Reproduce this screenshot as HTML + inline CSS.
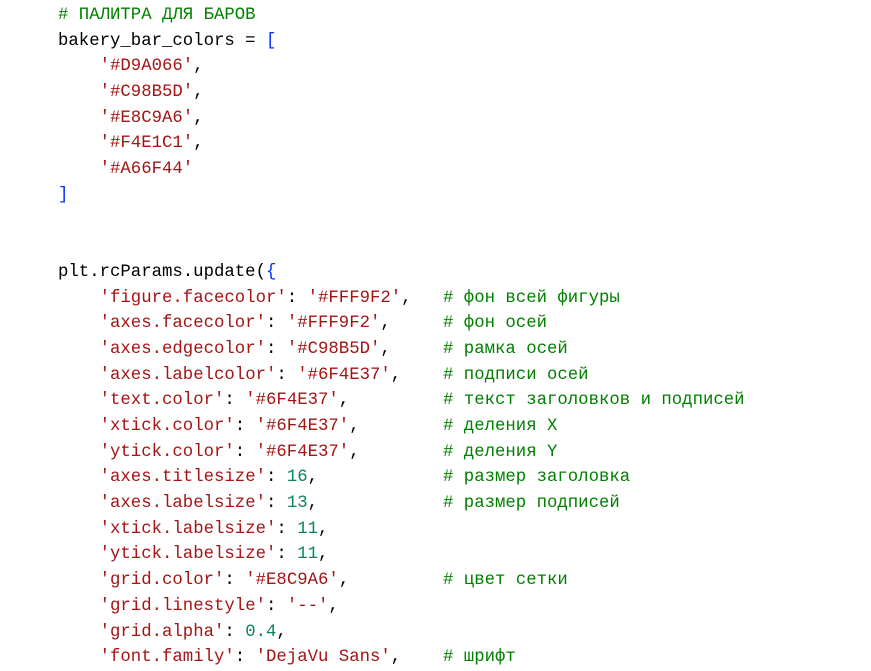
<!DOCTYPE html>
<html><head><meta charset="utf-8"><style>
html,body{margin:0;padding:0;background:#fff;width:871px;height:669px;overflow:hidden}
pre{margin:0;position:absolute;left:58px;top:3px;font-family:"Liberation Mono",monospace;font-size:17.33px;line-height:25.7px;color:#000}
.s{color:#a31515}.c{color:#008000}.b{color:#0431fa}.n{color:#098658}
.l{display:block;height:25.7px;position:relative}
.l .c2{position:absolute;left:385px;color:#008000}
</style></head><body>
<pre><span class="l"><span class="c"># ПАЛИТРА ДЛЯ БАРОВ</span></span><span class="l">bakery_bar_colors = <span class="b">[</span></span><span class="l">    <span class="s">'#D9A066'</span>,</span><span class="l">    <span class="s">'#C98B5D'</span>,</span><span class="l">    <span class="s">'#E8C9A6'</span>,</span><span class="l">    <span class="s">'#F4E1C1'</span>,</span><span class="l">    <span class="s">'#A66F44'</span></span><span class="l"><span class="b">]</span></span><span class="l"> </span><span class="l"> </span><span class="l">plt.rcParams.update(<span class="b">{</span></span><span class="l">    <span class="s">'figure.facecolor'</span>: <span class="s">'#FFF9F2'</span>,<span class="c2"># фон всей фигуры</span></span><span class="l">    <span class="s">'axes.facecolor'</span>: <span class="s">'#FFF9F2'</span>,<span class="c2"># фон осей</span></span><span class="l">    <span class="s">'axes.edgecolor'</span>: <span class="s">'#C98B5D'</span>,<span class="c2"># рамка осей</span></span><span class="l">    <span class="s">'axes.labelcolor'</span>: <span class="s">'#6F4E37'</span>,<span class="c2"># подписи осей</span></span><span class="l">    <span class="s">'text.color'</span>: <span class="s">'#6F4E37'</span>,<span class="c2"># текст заголовков и подписей</span></span><span class="l">    <span class="s">'xtick.color'</span>: <span class="s">'#6F4E37'</span>,<span class="c2"># деления X</span></span><span class="l">    <span class="s">'ytick.color'</span>: <span class="s">'#6F4E37'</span>,<span class="c2"># деления Y</span></span><span class="l">    <span class="s">'axes.titlesize'</span>: <span class="n">16</span>,<span class="c2"># размер заголовка</span></span><span class="l">    <span class="s">'axes.labelsize'</span>: <span class="n">13</span>,<span class="c2"># размер подписей</span></span><span class="l">    <span class="s">'xtick.labelsize'</span>: <span class="n">11</span>,</span><span class="l">    <span class="s">'ytick.labelsize'</span>: <span class="n">11</span>,</span><span class="l">    <span class="s">'grid.color'</span>: <span class="s">'#E8C9A6'</span>,<span class="c2"># цвет сетки</span></span><span class="l">    <span class="s">'grid.linestyle'</span>: <span class="s">'--'</span>,</span><span class="l">    <span class="s">'grid.alpha'</span>: <span class="n">0.4</span>,</span><span class="l">    <span class="s">'font.family'</span>: <span class="s">'DejaVu Sans'</span>,<span class="c2"># шрифт</span></span></pre>
</body></html>
